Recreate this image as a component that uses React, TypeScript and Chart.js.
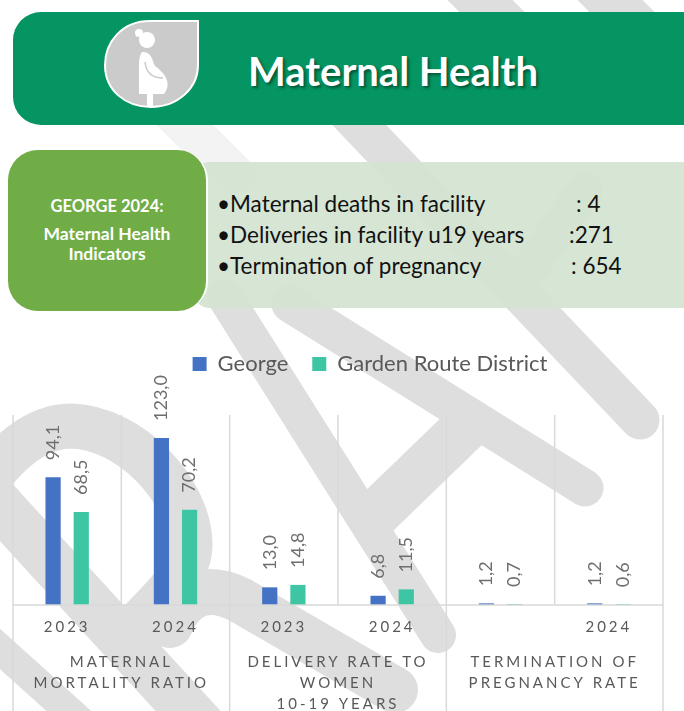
import React, { useEffect, useRef } from "react";
import { Chart, registerables } from "chart.js";

Chart.register(...registerables);

const years = ["2023", "2024", "2023", "2024", "", "2024"];
const groups = [
  ["MATERNAL", "MORTALITY RATIO"],
  ["DELIVERY RATE TO", "WOMEN", "10-19 YEARS"],
  ["TERMINATION OF", "PREGNANCY RATE"],
];
const george = [94.1, 123.0, 13.0, 6.8, 1.2, 1.2];
const district = [68.5, 70.2, 14.8, 11.5, 0.7, 0.6];
const indicators = [
  ["Maternal deaths in facility", ": 4", 576],
  ["Deliveries in facility u19 years", ":271", 569],
  ["Termination of pregnancy", ": 654", 571],
];

const FONT = "Lato, 'Noto Sans', sans-serif";
const GREY = "#595959";
const WM = "#dedede";

const rigPlugin = {
  id: "rig",
  afterLayout(chart: any) {
    chart.legend.left += 32;
    chart.legend.right += 32;
  },
  beforeDraw(chart: any) {
    for (const id of ["x", "x2"]) {
      const s = chart.scales[id];
      if (s.__rigged) continue;
      const orig = s.drawLabels;
      s.drawLabels = function (area: any) {
        const c = chart.ctx;
        c.save();
        c.letterSpacing = "3px";
        orig.call(this, area);
        c.restore();
      };
      s.__rigged = true;
    }
  },
  afterDraw(chart: any) {
    const { ctx, scales } = chart;
    const { x, y } = scales;
    const top = y.getPixelForValue(140);
    const bottom = y.getPixelForValue(0);
    const half = (x.getPixelForValue(1) - x.getPixelForValue(0)) / 2;
    ctx.save();
    ctx.strokeStyle = "#d9d9d9";
    ctx.lineWidth = 1.5;
    years.forEach((_, i) => {
      const edges = [x.getPixelForValue(i) - half];
      if (i === years.length - 1) edges.push(x.getPixelForValue(i) + half);
      edges.forEach((px, k) => {
        const major = (i + k) % 2 === 0;
        ctx.beginPath();
        ctx.moveTo(px, top);
        ctx.lineTo(px, major ? chart.height : bottom);
        ctx.stroke();
      });
    });
    ctx.lineWidth = 1.5;
    ctx.beginPath();
    ctx.moveTo(x.left, bottom);
    ctx.lineTo(x.right, bottom);
    ctx.stroke();
    // value labels
    ctx.fillStyle = "#6e6e6e";
    ctx.font = `18px ${FONT}`;
    ctx.textAlign = "left";
    ctx.textBaseline = "middle";
    chart.data.datasets.forEach((ds: any, di: number) => {
      chart.getDatasetMeta(di).data.forEach((bar: any, i: number) => {
        ctx.save();
        ctx.translate(bar.x, bar.y - 17);
        ctx.rotate(-Math.PI / 2);
        ctx.fillText(ds.data[i].toFixed(1).replace(".", ","), 0, 0);
        ctx.restore();
      });
    });
    ctx.restore();
  },
};

function Watermark() {
  const common = {
    fill: "none",
    stroke: WM,
    strokeLinecap: "round" as const,
    strokeLinejoin: "round" as const,
  };
  return (
    <svg width={684} height={711} style={{ position: "absolute", left: 0, top: 0 }}>
      <path d="M 440 -40 L 520 40" {...common} strokeWidth={46} />
      <path d="M 570 -40 L 650 40" {...common} strokeWidth={46} />
      <path d="M 170 110 L 235 175" {...common} strokeWidth={40} opacity={0.35} />
      <path d="M 345 110 L 640 420" {...common} strokeWidth={39} />
      <path d="M 225 297 L 438 635" {...common} strokeWidth={36} />
      <path d="M 290 304 L 585 488" {...common} strokeWidth={37} />
      <path d="M 468 425 L 375 515" {...common} strokeWidth={48} />
      <path d="M 585 190 L 525 275" {...common} strokeWidth={36} />
      <path d="M -20 490 C 15 440 45 426 72 426 C 130 428 190 490 190 545 C 190 575 160 600 140 622" {...common} strokeWidth={45} />
      <path d="M -20 484 L 200 724" {...common} strokeWidth={48} />
      <path d="M -30 622 L 90 730" {...common} strokeWidth={30} />
      <path d="M 170 625 C 185 590 210 585 240 600 L 395 690" {...common} strokeWidth={46} />
    </svg>
  );
}

function Banner() {
  return (
    <>
      <div style={{ position: "absolute", left: 13, top: 12, width: 700, height: 113, borderRadius: 28, background: "#049562" }} />
      <svg width={684} height={130} style={{ position: "absolute", left: 0, top: 0 }}>
        <path d="M198 21 H150 C122 21 105 42 105 65 C105 90 125 107 151 107 C178 107 198 88 198 65 Z" fill="#cbcbcb" stroke="#fff" strokeWidth={2} />
        <circle cx={147} cy={40} r={8} fill="#fff" />
        <circle cx={139} cy={33} r={4} fill="#fff" />
        <path d="M142 52 C152 52 152 60 155 66 C166 74 172 84 164 94 H153 V106 H147 V94 H139 V70 C139 62 139 56 142 52 Z" fill="#fff" />
        <path d="M145 62 C146 72 152 78 163 78" fill="none" stroke="#cbcbcb" strokeWidth={1.5} />
      </svg>
      <div style={{ position: "absolute", left: 248, top: 46, fontFamily: FONT, fontWeight: 700, fontSize: 40, lineHeight: "50px", color: "#fff", textShadow: "2px 2px 3px rgba(0,0,0,0.45)", whiteSpace: "nowrap" }}>
        Maternal Health
      </div>
      <div style={{ position: "absolute", left: 195, top: 162, width: 520, height: 146, borderRadius: 14, background: "rgba(210,227,208,0.92)" }} />
      <div style={{ position: "absolute", left: 8, top: 150, width: 200, height: 161, boxSizing: "border-box", borderRadius: 30, background: "#70ad47", borderRight: "2px solid #fff", color: "#fff", fontFamily: FONT, fontWeight: 700, textAlign: "center" }}>
        <div style={{ position: "absolute", left: 0, right: 0, top: 46, lineHeight: "20px", fontSize: 16.5 }}>GEORGE 2024:</div>
        <div style={{ position: "absolute", left: 0, right: 0, top: 74, lineHeight: "20px", fontSize: 17.5 }}>Maternal Health<br />Indicators</div>
      </div>
      {indicators.map(([label, value, x], i) => (
        <React.Fragment key={i}>
          <div style={{ position: "absolute", left: 217, top: 189 + i * 31, fontFamily: FONT, fontSize: 22.5, lineHeight: "30px", color: "#111", whiteSpace: "nowrap" }}>
            •{label}
          </div>
          <div style={{ position: "absolute", left: x as number, top: 189 + i * 31, fontFamily: FONT, fontSize: 22.5, lineHeight: "30px", color: "#111", whiteSpace: "nowrap" }}>
            {value}
          </div>
        </React.Fragment>
      ))}
    </>
  );
}

export default function App() {
  const ref = useRef<HTMLCanvasElement>(null);
  useEffect(() => {
    const chart = new Chart(ref.current!, {
      type: "bar",
      data: {
        labels: years,
        datasets: [
          { label: "George", data: george, backgroundColor: "#4472c4", xAxisID: "x", categoryPercentage: 0.52, barPercentage: 0.54 },
          { label: "Garden Route District", data: district, backgroundColor: "#3ec5a4", xAxisID: "x", categoryPercentage: 0.52, barPercentage: 0.54 },
        ],
      },
      options: {
        responsive: false,
        animation: false,
        layout: { padding: { left: 13, right: 21, top: 0, bottom: 0 } },
        plugins: {
          tooltip: { enabled: false },
          legend: {
            position: "top",
            labels: { boxWidth: 14, boxHeight: 14, padding: 24, color: GREY, font: { family: FONT, size: 22 } },
          },
        },
        scales: {
          y: { display: false, min: 0, max: 162 },
          x: {
            position: "bottom",
            grid: { display: false, drawTicks: false },
            border: { display: false },
            ticks: { color: GREY, autoSkip: false, maxRotation: 0, padding: 13, font: { family: FONT, size: 15 } },
          },
          x2: {
            type: "category",
            position: "bottom",
            labels: groups as any,
            grid: { display: false, drawTicks: false },
            border: { display: false },
            ticks: { color: GREY, autoSkip: false, maxRotation: 0, padding: 3, font: { family: FONT, size: 15, lineHeight: 1.4 } },
          },
        },
      },
      plugins: [rigPlugin],
    } as any);
    return () => chart.destroy();
  }, []);
  return (
    <div style={{ position: "fixed", left: 0, top: 0, width: 684, height: 711, overflow: "hidden", background: "#fff" }}>
      <Watermark />
      <Banner />
      <canvas ref={ref} width={684} height={389} style={{ position: "absolute", left: 0, top: 329, display: "block" }} />
    </div>
  );
}
